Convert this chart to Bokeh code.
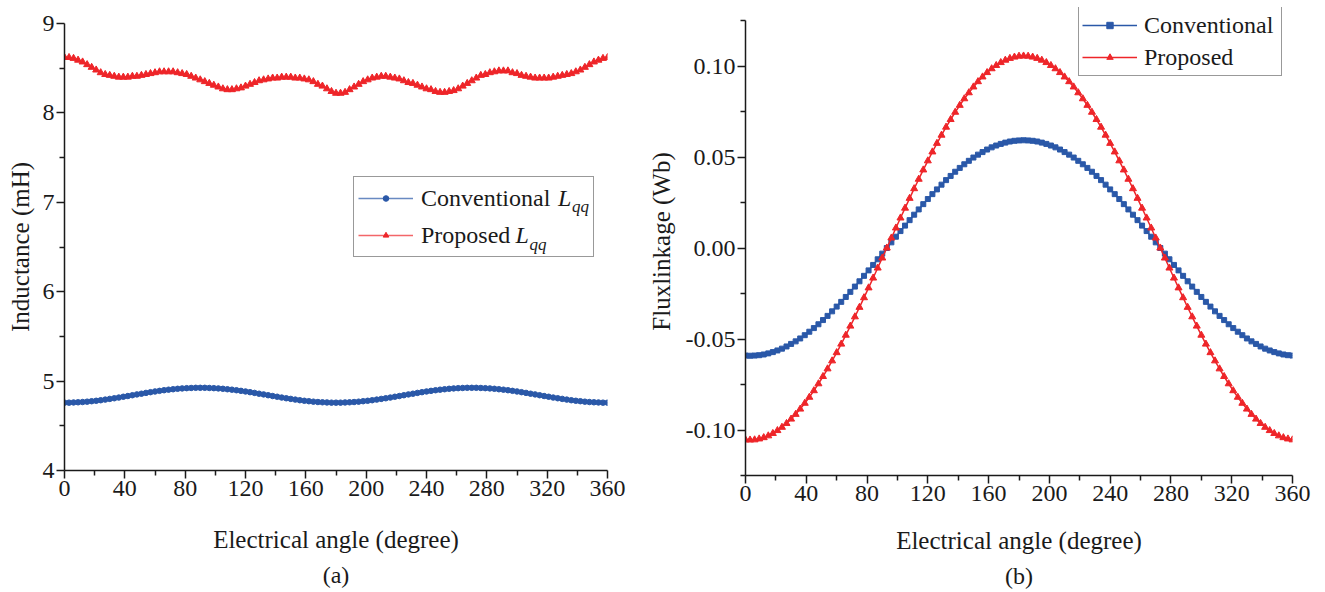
from bokeh.plotting import figure
from bokeh.layouts import row, column
from bokeh.models import FixedTicker, NumeralTickFormatter, Label, Title, Range1d
from bokeh.embed import file_html
from bokeh.resources import INLINE

# ---------------- data ----------------
angle = list(range(0, 361, 3))  # electrical angle (degree)

lqq_conventional = [
    4.759, 4.759, 4.761, 4.763, 4.766, 4.770, 4.775, 4.780, 4.786, 4.793,
    4.801, 4.808, 4.816, 4.825, 4.833, 4.842, 4.851, 4.859, 4.868, 4.876,
    4.884, 4.891, 4.898, 4.904, 4.909, 4.914, 4.918, 4.921, 4.923, 4.925, 4.925,
    4.925, 4.923, 4.921, 4.918, 4.914, 4.909, 4.904, 4.898, 4.891, 4.884,
    4.876, 4.868, 4.859, 4.851, 4.842, 4.833, 4.825, 4.816, 4.808, 4.801,
    4.793, 4.786, 4.780, 4.775, 4.770, 4.766, 4.763, 4.761, 4.759, 4.759,
    4.759, 4.761, 4.763, 4.766, 4.770, 4.775, 4.780, 4.786, 4.793, 4.801,
    4.808, 4.816, 4.825, 4.833, 4.842, 4.851, 4.859, 4.868, 4.876, 4.884,
    4.891, 4.898, 4.904, 4.909, 4.914, 4.918, 4.921, 4.923, 4.925, 4.925,
    4.925, 4.923, 4.921, 4.918, 4.914, 4.909, 4.904, 4.898, 4.891, 4.884,
    4.876, 4.868, 4.859, 4.851, 4.842, 4.833, 4.825, 4.816, 4.808, 4.801,
    4.793, 4.786, 4.780, 4.775, 4.770, 4.766, 4.763, 4.761, 4.759, 4.759,
]

lqq_proposed = [
    8.62, 8.62, 8.61, 8.59, 8.57, 8.54, 8.51, 8.48, 8.45, 8.43,
    8.42, 8.41, 8.40, 8.40, 8.40, 8.41, 8.41, 8.42, 8.43, 8.44,
    8.45, 8.46, 8.46, 8.46, 8.46, 8.45, 8.44, 8.43, 8.41, 8.39, 8.37,
    8.35, 8.33, 8.31, 8.29, 8.27, 8.26, 8.26, 8.27, 8.28, 8.30,
    8.32, 8.34, 8.36, 8.37, 8.38, 8.39, 8.39, 8.40, 8.40, 8.40,
    8.39, 8.39, 8.38, 8.37, 8.35, 8.32, 8.30, 8.27, 8.24, 8.22,
    8.22, 8.23, 8.26, 8.29, 8.32, 8.35, 8.37, 8.39, 8.40, 8.41,
    8.41, 8.40, 8.39, 8.38, 8.36, 8.34, 8.33, 8.31, 8.29, 8.27,
    8.26, 8.24, 8.23, 8.23, 8.24, 8.25, 8.27, 8.30, 8.33, 8.36,
    8.39, 8.42, 8.43, 8.45, 8.46, 8.47, 8.47, 8.47, 8.45, 8.44,
    8.42, 8.41, 8.40, 8.39, 8.39, 8.39, 8.39, 8.40, 8.41, 8.42,
    8.43, 8.44, 8.46, 8.48, 8.51, 8.54, 8.57, 8.59, 8.61, 8.62,
]

flux_conventional = [
    -0.0591, -0.0592, -0.0591, -0.0589, -0.0585, -0.0579, -0.0572, -0.0563, -0.0553, -0.0541,
    -0.0527, -0.0513, -0.0497, -0.0479, -0.0460, -0.0440, -0.0419, -0.0396, -0.0373, -0.0348,
    -0.0322, -0.0296, -0.0269, -0.0241, -0.0212, -0.0183, -0.0153, -0.0123, -0.0093, -0.0062, -0.0031,
    0.0000, 0.0031, 0.0062, 0.0093, 0.0123, 0.0153, 0.0183, 0.0212, 0.0241, 0.0269,
    0.0296, 0.0322, 0.0348, 0.0373, 0.0396, 0.0419, 0.0440, 0.0460, 0.0479, 0.0497,
    0.0513, 0.0527, 0.0541, 0.0553, 0.0563, 0.0572, 0.0579, 0.0585, 0.0589, 0.0591,
    0.0592, 0.0591, 0.0589, 0.0585, 0.0579, 0.0572, 0.0563, 0.0553, 0.0541, 0.0527,
    0.0513, 0.0497, 0.0479, 0.0460, 0.0440, 0.0419, 0.0396, 0.0373, 0.0348, 0.0322,
    0.0296, 0.0269, 0.0241, 0.0212, 0.0183, 0.0153, 0.0123, 0.0093, 0.0062, 0.0031,
    0.0000, -0.0031, -0.0062, -0.0093, -0.0123, -0.0153, -0.0183, -0.0212, -0.0241, -0.0269,
    -0.0296, -0.0322, -0.0348, -0.0373, -0.0396, -0.0419, -0.0440, -0.0460, -0.0479, -0.0497,
    -0.0513, -0.0527, -0.0541, -0.0553, -0.0563, -0.0572, -0.0579, -0.0585, -0.0589, -0.0591,
]

flux_proposed = [
    -0.1054, -0.1055, -0.1054, -0.1049, -0.1042, -0.1032, -0.1019, -0.1003, -0.0985, -0.0964,
    -0.0940, -0.0914, -0.0885, -0.0853, -0.0820, -0.0784, -0.0746, -0.0706, -0.0664, -0.0620,
    -0.0575, -0.0528, -0.0479, -0.0429, -0.0378, -0.0326, -0.0273, -0.0219, -0.0165, -0.0110, -0.0055,
    0.0000, 0.0055, 0.0110, 0.0165, 0.0219, 0.0273, 0.0326, 0.0378, 0.0429, 0.0479,
    0.0528, 0.0575, 0.0620, 0.0664, 0.0706, 0.0746, 0.0784, 0.0820, 0.0853, 0.0885,
    0.0914, 0.0940, 0.0964, 0.0985, 0.1003, 0.1019, 0.1032, 0.1042, 0.1049, 0.1054,
    0.1055, 0.1054, 0.1049, 0.1042, 0.1032, 0.1019, 0.1003, 0.0985, 0.0964, 0.0940,
    0.0914, 0.0885, 0.0853, 0.0820, 0.0784, 0.0746, 0.0706, 0.0664, 0.0620, 0.0575,
    0.0528, 0.0479, 0.0429, 0.0378, 0.0326, 0.0273, 0.0219, 0.0165, 0.0110, 0.0055,
    0.0000, -0.0055, -0.0110, -0.0165, -0.0219, -0.0273, -0.0326, -0.0378, -0.0429, -0.0479,
    -0.0528, -0.0575, -0.0620, -0.0664, -0.0706, -0.0746, -0.0784, -0.0820, -0.0853, -0.0885,
    -0.0914, -0.0940, -0.0964, -0.0985, -0.1003, -0.1019, -0.1032, -0.1042, -0.1049, -0.1054,
]

x_ticks = [0, 40, 80, 120, 160, 200, 240, 280, 320, 360]
x_minor = [20, 60, 100, 140, 180, 220, 260, 300, 340]
l_ticks = [4, 5, 6, 7, 8, 9]
l_minor = [4.5, 5.5, 6.5, 7.5, 8.5]
f_ticks = [-0.10, -0.05, 0.00, 0.05, 0.10]
f_minor = [-0.125, -0.075, -0.025, 0.025, 0.075, 0.125]

# ---------------- styling ----------------
FONT = "Liberation Serif"
INK = "#1a1a1a"
BLUE = "#2a58a8"
RED = "#ee2529"


def style(p):
    p.outline_line_color = None
    p.grid.visible = False
    p.background_fill_color = "white"
    p.border_fill_color = "white"
    for ax in p.axis:
        ax.axis_line_color = INK
        ax.axis_line_width = 1.5
        ax.major_tick_line_color = INK
        ax.major_tick_line_width = 1.5
        ax.minor_tick_line_color = INK
        ax.minor_tick_line_width = 1.5
        ax.major_tick_in = 0
        ax.major_tick_out = 8
        ax.minor_tick_in = 0
        ax.minor_tick_out = 5
        ax.major_label_text_font = FONT
        ax.major_label_text_font_size = "24px"
        ax.major_label_text_color = INK
        ax.major_label_standoff = 2
        ax.axis_label_text_font = FONT
        ax.axis_label_text_font_size = "25px"
        ax.axis_label_text_font_style = "normal"
        ax.axis_label_text_color = INK


def style_legend(lg, loc, lw, gh, lh, pad, spacing, standoff):
    lg.location = loc
    lg.label_text_font = FONT
    lg.label_text_font_size = "24px"
    lg.label_text_color = INK
    lg.glyph_width = 55
    lg.glyph_height = gh
    lg.label_height = lh
    lg.label_width = lw
    lg.label_standoff = standoff
    lg.padding = pad
    lg.spacing = spacing
    lg.margin = 0
    lg.border_line_color = "#333333"
    lg.border_line_width = 1.2


# ---------------- (a) inductance ----------------
# frame: x 64..607, y 23..470 in picture pixels
F1L, F1T, F1W, F1H = 64, 23, 543, 447
p1 = figure(width=635, height=592, output_backend="svg", toolbar_location=None,
            x_range=Range1d(0, 360), y_range=Range1d(4, 9),
            min_border_left=F1L, min_border_right=635 - F1L - F1W, min_border_top=F1T,
            min_border_bottom=592 - F1T - F1H,
            x_axis_label="Electrical angle (degree)", y_axis_label="Inductance (mH)")
style(p1)
p1.xaxis.ticker = FixedTicker(ticks=x_ticks, minor_ticks=x_minor)
p1.yaxis.ticker = FixedTicker(ticks=l_ticks, minor_ticks=l_minor)
p1.yaxis.axis_label_standoff = 6
p1.xaxis.axis_label_standoff = 27

p1.line(angle, lqq_conventional, color=BLUE, line_width=1.5, line_alpha=0.7, legend_label="Conventional")
p1.scatter(angle, lqq_conventional, marker="circle", size=5.5, color=BLUE, legend_label="Conventional")
p1.line(angle, lqq_proposed, color=RED, line_width=1.5, line_alpha=0.7, legend_label="Proposed")
p1.scatter(angle, lqq_proposed, marker="triangle", size=7, color=RED, legend_label="Proposed")
style_legend(p1.legend[0], (353 - F1L, F1T + F1H - 257), 168, 14, 34, 4, 3, 8)
p1.legend[0].background_fill_alpha = 0.0


def px1(x):
    return (x - F1L) / F1W * 360


def py1(y):
    return 9 - (y - F1T) / F1H * 5


for lx, ly, sx in [(557.5, 197, 571.5), (515, 234.5, 529)]:
    p1.add_layout(Label(x=px1(lx), y=py1(ly), text="L", text_font=FONT, text_font_style="italic",
                        text_font_size="24px", text_color=INK, text_baseline="middle",
                        text_align="left", level="overlay"))
    p1.add_layout(Label(x=px1(sx), y=py1(ly + 9), text="qq", text_font=FONT, text_font_style="italic",
                        text_font_size="17px", text_color=INK, text_baseline="middle",
                        text_align="left", level="overlay"))

p1.add_layout(Title(text="(a)", align="center", text_font=FONT, text_font_size="24px",
                    text_font_style="normal", text_color=INK, standoff=8), "below")

# ---------------- (b) flux linkage ----------------
# axis: -0.125..0.125 spans y 475..20 (1820 px per Wb); the frame reaches up to y=7
# so that the legend, which sits above the axis top, is not clipped.
F2L, F2T, F2W, F2H = 110, 7, 547, 468
Y2_LO = -0.125
Y2_HI = Y2_LO + F2H / 1820.0
p2 = figure(width=690, height=592, output_backend="svg", toolbar_location=None,
            x_range=Range1d(0, 360), y_range=Range1d(Y2_LO, Y2_HI),
            min_border_left=F2L, min_border_right=690 - F2L - F2W, min_border_top=F2T,
            min_border_bottom=592 - F2T - F2H,
            x_axis_label="Electrical angle (degree)", y_axis_label="Fluxlinkage (Wb)")
style(p2)
p2.xaxis.ticker = FixedTicker(ticks=x_ticks, minor_ticks=x_minor)
p2.yaxis.ticker = FixedTicker(ticks=f_ticks, minor_ticks=f_minor)
p2.yaxis.formatter = NumeralTickFormatter(format="0.00")
p2.yaxis.bounds = (-0.125, 0.125)
p2.yaxis.axis_label_standoff = 8
p2.xaxis.axis_label_standoff = 23

p2.line(angle, flux_conventional, color=BLUE, line_width=1.5, legend_label="Conventional")
p2.scatter(angle, flux_conventional, marker="square", size=5, color=BLUE, legend_label="Conventional")
p2.line(angle, flux_proposed, color=RED, line_width=1.5, legend_label="Proposed")
p2.scatter(angle, flux_proposed, marker="triangle", size=7, color=RED, legend_label="Proposed")
style_legend(p2.legend[0], (1078 - 745, F2T + F2H - 76), 134, 16, 30, 3, 2, 7)

p2.add_layout(Title(text="(b)", align="center", text_font=FONT, text_font_size="24px",
                    text_font_style="normal", text_color=INK, standoff=8), "below")

layout = row(column(p1), column(p2))
open("out.html", "w").write(file_html(layout, INLINE))
